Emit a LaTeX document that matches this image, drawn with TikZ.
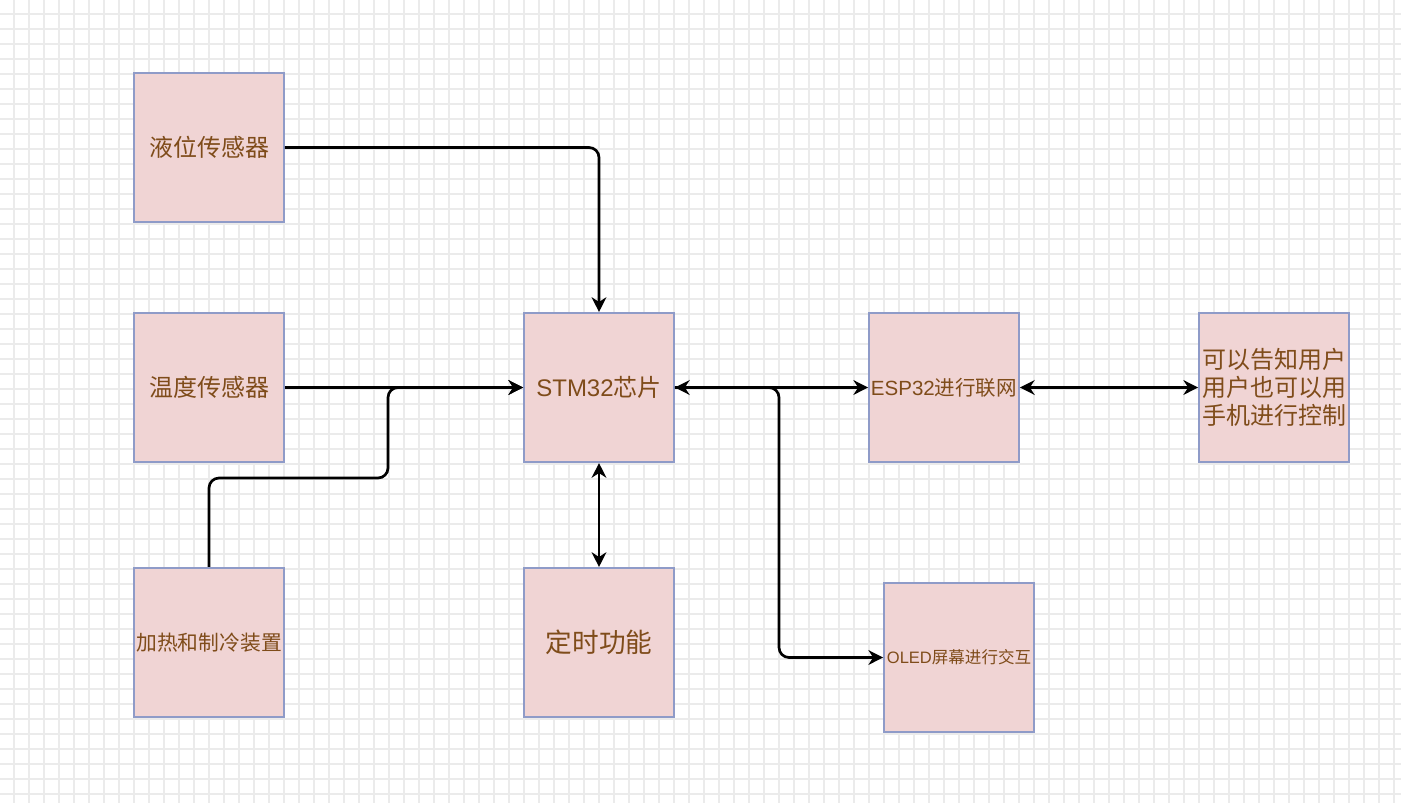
\documentclass[tikz,border=0pt]{standalone}
\usepackage{fontspec}
\setmainfont{Noto Sans CJK SC}
\newfontfamily\lat{Liberation Sans}
\usetikzlibrary{arrows.meta}
\definecolor{boxfill}{HTML}{F0D4D4}
\definecolor{boxline}{HTML}{8F9BC8}
\definecolor{txt}{HTML}{7F4C1A}
\definecolor{gridc}{HTML}{EBEBEB}
\tikzset{
  box/.style={draw=boxline, fill=boxfill, line width=1.3pt, minimum width=112.5pt, minimum height=112pt, inner sep=0pt, text=txt, align=center},
  conn/.style={draw=black, line width=2pt, rounded corners=7.5pt, arrows={-Stealth[length=11pt,width=11pt,inset=3.5pt]}},
  dconn/.style={draw=black, line width=2pt, rounded corners=7.5pt, arrows={Stealth[length=11pt,width=11pt,inset=3.5pt]-Stealth[length=11pt,width=11pt,inset=3.5pt]}},
  gridline/.style={draw=gridc, line width=0.8pt}
}
\begin{document}
\begin{tikzpicture}[x=0.75pt,y=-0.75pt]
\useasboundingbox (0,0) rectangle (1401,803);
\fill[white] (0,0) rectangle (1401,803);
\foreach \gx in {14,29,...,1401} \draw[gridline] (\gx,0) -- (\gx,803);
\foreach \gy in {14,29,...,803} \draw[gridline] (0,\gy) -- (1401,\gy);

\node[box, font=\fontsize{18}{21}\selectfont] (liq) at (209,147.5) {液位传感器};
\node[box, font=\fontsize{18}{21}\selectfont] (temp) at (209,387.5) {温度传感器};
\node[box, font=\fontsize{15.6}{18}\selectfont] (heat) at (209,642.5) {加热和制冷装置};
\node[box, font=\fontsize{18}{21}\selectfont] (stm) at (599,387.5) {{\lat STM32}芯片};
\node[box, font=\fontsize{20}{24}\selectfont] (timer) at (599,642.5) {定时功能};
\node[box, font=\fontsize{15.4}{18}\selectfont] (esp) at (944,387.5) {{\lat ESP32}进行联网};
\node[box, font=\fontsize{12.4}{15}\selectfont] (oled) at (959,657.5) {{\lat OLED}屏幕进行交互};
\node[box, font=\fontsize{18}{21}\selectfont] (app) at (1274,387.5) {可以告知用户\\用户也可以用\\手机进行控制};

\coordinate (hb) at (388,478);
\coordinate (ob) at (779,520);

\draw[conn] (liq.east) -| (stm.north);
\draw[conn] (temp.east) -- (stm.west);
\draw[conn] (heat.north) |- (hb) |- (stm.west);
\draw[dconn] (stm.south) -- (timer.north);
\draw[dconn] (stm.east) -- (esp.west);
\draw[conn] (stm.east) -| (ob) |- (oled.west);
\draw[dconn] (esp.east) -- (app.west);
\end{tikzpicture}
\end{document}
